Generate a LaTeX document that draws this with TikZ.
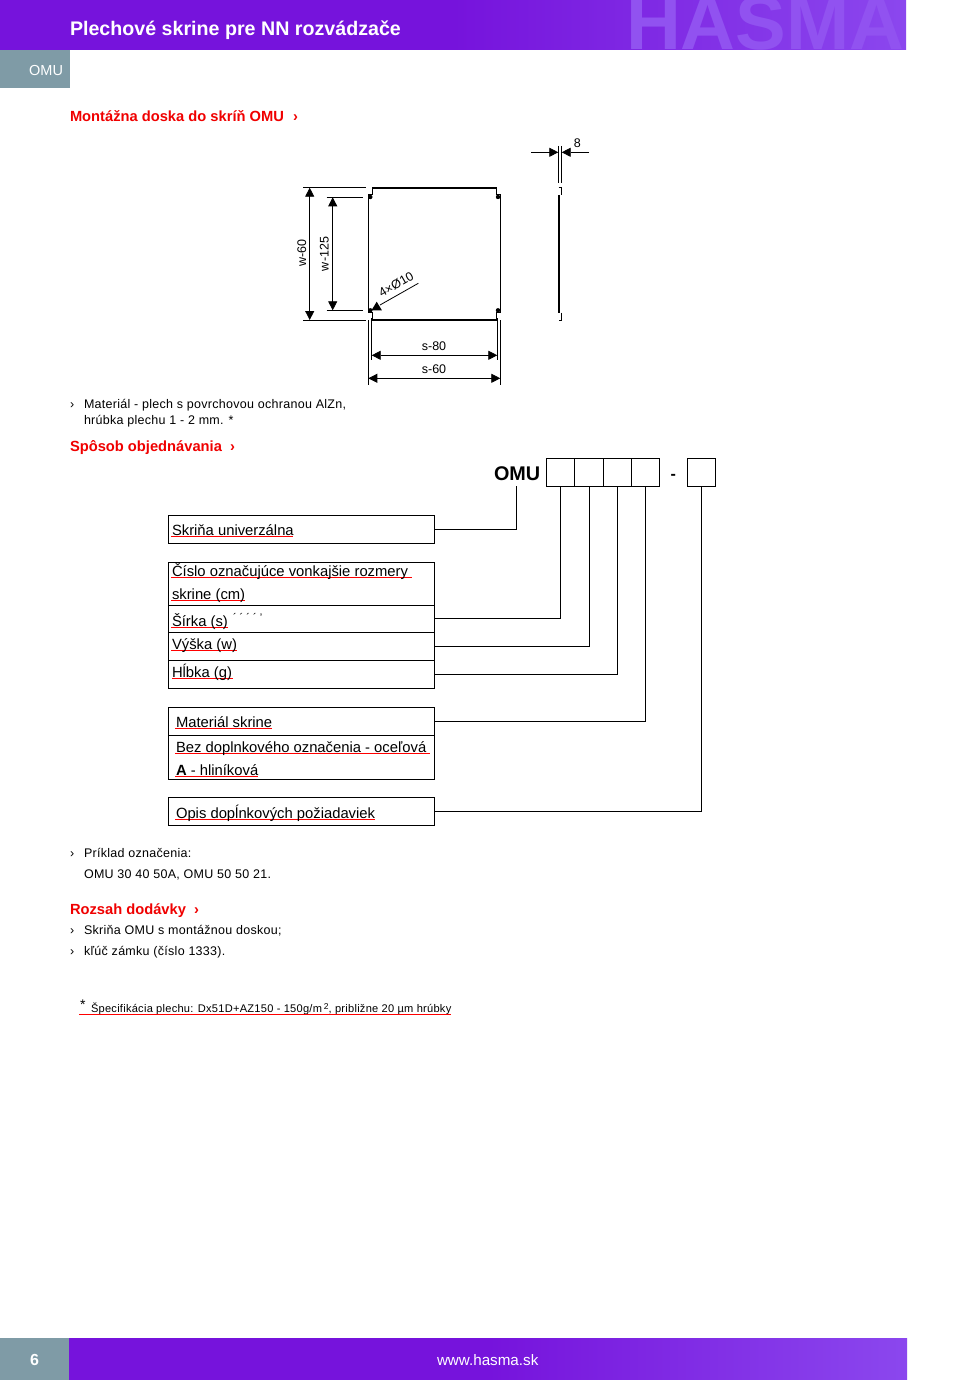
\documentclass[tikz,border=0pt]{standalone}
\usepackage{fontspec}
\setmainfont{Liberation Sans}
\newfontfamily\spaced[LetterSpace=2.3]{Liberation Sans}
\usetikzlibrary{arrows.meta}
\definecolor{violetL}{HTML}{7613DC}
\definecolor{violetR}{HTML}{8B47EE}
\definecolor{wmark}{HTML}{9152F0}
\definecolor{slate}{HTML}{7F9BA6}
\definecolor{headred}{HTML}{F00000}
\pgfdeclarehorizontalshading{bandshade}{100bp}{color(0bp)=(violetL);color(25bp)=(violetL);color(50bp)=(violetL);color(75bp)=(violetR);color(100bp)=(violetR)}
\newcommand{\fs}[1]{\fontsize{#1}{#1}\selectfont}
\tikzset{
  txt/.style={anchor=base west,inner sep=0pt,outer sep=0pt,font=\spaced\fs{12.5}},
  redhead/.style={anchor=base west,inner sep=0pt,outer sep=0pt,text=headred,font=\fs{14.7}\bfseries},
  boxtxt/.style={anchor=base west,inner sep=0pt,outer sep=0pt,font=\fs{14.8}},
  dimtxt/.style={inner sep=0pt,outer sep=0pt,font=\fs{12.5}},
  uline/.style={draw=red,line width=1pt},
  row/.style={draw=black,line width=1pt,anchor=north west,inner sep=0pt,outer sep=0pt,minimum width=265.5pt},
  cell/.style={draw=black,line width=1pt,anchor=north west,inner sep=0pt,outer sep=0pt,minimum height=28.3pt},
  conn/.style={draw=black,line width=0.9pt},
  part/.style={draw=black,line width=1pt},
  thick part/.style={draw=black,line width=2pt},
  dimln/.style={draw=black,line width=0.8pt},
  dimarr/.style={draw=black,line width=0.8pt,{Triangle[length=9pt,width=9pt]}-{Triangle[length=9pt,width=9pt]}},
  onearr/.style={draw=black,line width=0.8pt,-{Triangle[length=9pt,width=9pt]}},
}
\begin{document}
\begin{tikzpicture}[x=1pt,y=-1pt]
\useasboundingbox (0,0) rectangle (976,1380);
\fill[white] (0,0) rectangle (976,1380);
% header
\shade[shading=bandshade] (0,0) rectangle (906,50);
\begin{scope}
\clip (0,0) rectangle (906,50);
\node[anchor=base west,inner sep=0pt,outer sep=0pt,text=wmark,font=\fs{76}\bfseries] (wm) at (626,50) {HASMA};
\end{scope}
\node[anchor=base west,inner sep=0pt,outer sep=0pt,text=white,font=\fs{19.65}\bfseries] (title) at (70,36) {Plechové skrine pre NN rozvádzače};
\fill[slate] (0,50) rectangle (70,88);
\node[anchor=base east,inner sep=0pt,outer sep=0pt,text=white,font=\fs{14.5}] (tab) at (63,75.5) {OMU};
% footer
\shade[shading=bandshade] (69,1338) rectangle (907,1380);
\fill[slate] (0,1338) rectangle (69,1380);
\node[anchor=base west,inner sep=0pt,outer sep=0pt,text=white,font=\fs{16}\bfseries] (pg) at (30,1365) {6};
\node[anchor=base west,inner sep=0pt,outer sep=0pt,text=white,font=\fs{15.2}] (web) at (437,1365) {www.hasma.sk};
% headings
\node[redhead] (h1) at (70,122) {Montážna doska do skríň OMU};
\node[redhead] (h1a) at (293,122) {›};
\node[redhead] (h2) at (70,451) {Spôsob objednávania};
\node[redhead] (h2a) at (230,451) {›};
\node[redhead] (h3) at (70,914) {Rozsah dodávky};
\node[redhead] (h3a) at (194,914) {›};
% body text
\node[txt] (b1) at (70,408) {›};
\node[txt] (t1) at (84,408) {Materiál - plech s povrchovou ochranou AlZn,};
\node[txt] (t2) at (84,424) {hrúbka plechu 1 - 2 mm. *};
\node[txt] (b2) at (70,857) {›};
\node[txt] (t3) at (84,857) {Príklad označenia:};
\node[txt] (t4) at (84,878) {OMU 30 40 50A, OMU 50 50 21.};
\node[txt] (b3) at (70,934) {›};
\node[txt] (t5) at (84,934) {Skriňa OMU s montážnou doskou;};
\node[txt] (b4) at (70,955) {›};
\node[txt] (t6) at (84,955) {kľúč zámku (číslo 1333).};
% footnote
\node[anchor=base west,inner sep=0pt,outer sep=0pt,font=\fs{14}] (fnstar) at (80,1009) {*};
\node[anchor=base west,inner sep=0pt,outer sep=0pt,font=\spaced\fs{11.08}] (fn) at (91,1012) {Špecifikácia plechu: Dx51D+AZ150 - 150g/m\,\raisebox{3pt}{\fs{8.5}2}, približne 20 µm hrúbky};
\draw[uline] (79,1014) -- (451,1014);
% technical drawing: panel
\draw[part] (372.3,187.7) -- (372.3,195) -- (368.3,195) -- (368.3,312.7) -- (372.3,312.7) -- (372.3,319.7);
\draw[part] (496.7,187.7) -- (496.7,195) -- (500.3,195) -- (500.3,312.7) -- (496.7,312.7) -- (496.7,319.7);
\draw[thick part] (372.3,187.7) -- (496.7,187.7);
\draw[thick part] (372.3,319.7) -- (496.7,319.7);
\foreach \hx/\hy in {370.3/197,498/197,370.3/310.3,498/310.3} \fill (\hx,\hy) circle (2.2pt);
% w dims
\draw[dimln] (303.3,187.3) -- (366,187.3);
\draw[dimln] (303.3,320.3) -- (366,320.3);
\draw[dimln] (326.7,197.3) -- (363,197.3);
\draw[dimln] (326.7,310.3) -- (363,310.3);
\draw[dimarr] (309.7,187.7) -- (309.7,320);
\draw[dimarr] (332.7,197.3) -- (332.7,310.3);
\node[dimtxt,rotate=90] (w60) at (301.7,253) {w-60};
\node[dimtxt,rotate=90] (w125) at (324.3,254) {w-125};
% s dims
\draw[dimln] (371.7,318) -- (371.7,360);
\draw[dimln] (497.3,318) -- (497.3,360);
\draw[dimln] (368.3,320) -- (368.3,385);
\draw[dimln] (500.3,320) -- (500.3,385);
\draw[dimarr] (371.7,355.3) -- (497.3,355.3);
\draw[dimarr] (368.3,378.3) -- (500.3,378.3);
\node[dimtxt] (s80) at (434,346.5) {s-80};
\node[dimtxt] (s60) at (434,369.5) {s-60};
% hole leader
\fill (376.7,301.7) -- (381.9,310.3) -- (371.5,310.3) -- cycle;
\draw[dimln] (380,305) -- (418.3,283.3);
\node[dimtxt,rotate=30] (hole) at (396,284.5) {4×Ø10};
% side view
\draw[draw=black,line width=1.5pt] (558.9,195) -- (558.9,312.7);
\draw[part] (558.6,187.7) -- (561.3,187.7) -- (561.3,195.5);
\draw[part] (561.3,312.5) -- (561.3,320) -- (558.6,320);
\draw[dimln] (558.3,146) -- (558.3,182.7);
\draw[dimln] (561.7,146) -- (561.7,182.7);
\coordinate (la) at (531,152.3);
\coordinate (lb) at (558.3,152.3);
\coordinate (ra) at (589,152.3);
\coordinate (rb) at (561.7,152.3);
\draw[onearr] (la) -- (lb);
\draw[onearr] (ra) -- (rb);
\node[dimtxt] (eight) at (577.3,143.5) {8};
% order code
\node[anchor=base west,inner sep=0pt,outer sep=0pt,font=\fs{19.8}\bfseries] (omu) at (494,480) {OMU};
\coordinate (omuleg) at (516.6,486.3);
\node[cell,minimum width=28pt] (c1) at (546.7,458) {};
\node[cell,minimum width=29pt] (c2) at (574.7,458) {};
\node[cell,minimum width=28pt] (c3) at (603.7,458) {};
\node[cell,minimum width=28pt] (c4) at (631.7,458) {};
\node[anchor=base west,inner sep=0pt,outer sep=0pt,font=\fs{16}\bfseries] (dash) at (670.5,479) {-};
\node[cell,minimum width=28pt] (c5) at (687.3,458) {};
% rows
\node[row,minimum height=27.8pt] (r1) at (168.5,515.5) {};
\node[row,minimum height=43pt] (r2) at (168.5,562.3) {};
\node[row,minimum height=27pt] (r3) at (168.5,605.3) {};
\node[row,minimum height=28pt] (r4) at (168.5,632.3) {};
\node[row,minimum height=28pt] (r5) at (168.5,660.3) {};
\node[row,minimum height=28pt] (r6) at (168.5,707.3) {};
\node[row,minimum height=44pt] (r7) at (168.5,735.3) {};
\node[row,minimum height=27.6pt] (r8) at (168.5,797.7) {};
% connectors
\draw[conn] (r1.east) -| (omuleg);
\draw[conn] (r3.east) -| (c1.south);
\draw[conn] (r4.east) -| (c2.south);
\draw[conn] (r5.east) -| (c3.south);
\draw[conn] (r6.east) -| (c4.south);
\draw[conn] (r8.east) -| (c5.south);
% row text
\draw[uline] (171,536) -- (293,536);
\node[boxtxt] (x1) at (172,535) {Skriňa univerzálna};
\draw[uline] (171,577) -- (412,577);
\node[boxtxt] (x2) at (172,576) {Číslo označujúce vonkajšie rozmery};
\draw[uline] (171,600) -- (245,600);
\node[boxtxt] (x3) at (172,599) {skrine (cm)};
\draw[uline] (171,627) -- (228,627);
\node[boxtxt] (x4) at (172,626) {Šírka (s)};
\node[anchor=base west,inner sep=0pt,outer sep=0pt,font=\fs{11}] (x4b) at (233,621) {´ ´ ´ ´ '};
\draw[uline] (171,650) -- (237,650);
\node[boxtxt] (x5) at (172,649) {Výška (w)};
\draw[uline] (172,678) -- (233,678);
\node[boxtxt] (x6) at (172,677) {Hĺbka (g)};
\draw[uline] (175,728.7) -- (272,728.7);
\node[boxtxt] (x7) at (176,727) {Materiál skrine};
\draw[uline] (175,753) -- (430,753);
\node[boxtxt] (x8) at (176,752) {Bez doplnkového označenia - oceľová};
\draw[uline] (175,776.3) -- (258,776.3);
\node[boxtxt] (x9) at (176,775) {\textbf{A} - hliníková};
\draw[uline] (175,819) -- (375,819);
\node[boxtxt] (x10) at (176,818) {Opis dopĺnkových požiadaviek};
\end{tikzpicture}
\end{document}
